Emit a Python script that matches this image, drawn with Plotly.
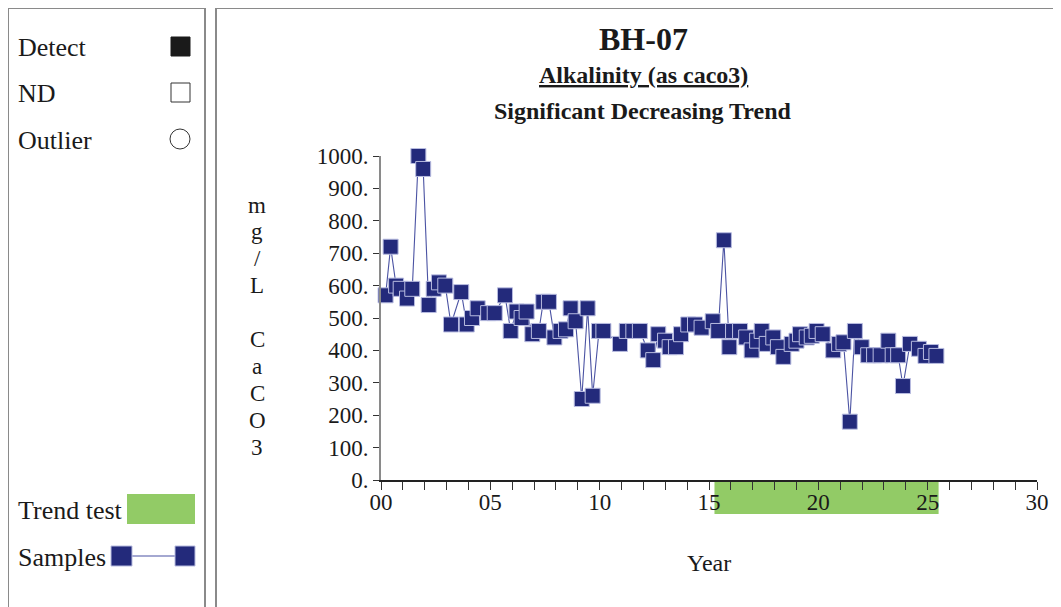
import plotly.graph_objects as go

# ---- data ----
years = [0.21, 0.44, 0.69, 0.90, 1.19, 1.43, 1.71, 1.93, 2.18, 2.41, 2.65, 2.94,
         3.20, 3.67, 3.92, 4.16, 4.42, 4.90, 5.20, 5.67, 5.93, 6.20, 6.43, 6.66,
         6.92, 7.22, 7.42, 7.68, 7.93, 8.21, 8.46, 8.67, 8.90, 9.18, 9.45, 9.68,
         9.97, 10.17, 10.93, 11.24, 11.54, 11.84, 12.20, 12.45, 12.68, 12.99, 13.20,
         13.49, 13.72, 14.05, 14.36, 14.66, 15.17, 15.42, 15.68, 15.93, 16.10, 16.42,
         16.70, 16.95, 17.20, 17.41, 17.64, 17.94, 18.15, 18.40, 18.78, 19.00, 19.16,
         19.47, 19.70, 19.92, 20.20, 20.68, 20.95, 21.15, 21.44, 21.67, 21.98, 22.28,
         22.55, 22.85, 23.20, 23.40, 23.65, 23.87, 24.19, 24.60, 24.90, 25.15, 25.40]
alkalinity = [570, 720, 600, 590, 560, 590, 1000, 960, 540, 590, 610, 600,
              480, 580, 480, 500, 530, 515, 515, 570, 460, 520, 500, 520,
              450, 460, 550, 550, 440, 460, 465, 530, 490, 250, 530, 260,
              460, 460, 420, 460, 460, 460, 400, 370, 450, 430, 410,
              410, 450, 480, 480, 470, 490, 460, 740, 410, 460, 460,
              440, 400, 430, 460, 420, 440, 410, 380, 420, 430, 450,
              440, 445, 460, 450, 400, 420, 425, 180, 460, 410, 385,
              385, 385, 430, 385, 385, 290, 420, 405, 383, 395, 383]
trend_start, trend_end = 15.25, 25.5
y_ticks = [0, 100, 200, 300, 400, 500, 600, 700, 800, 900, 1000]
y_ticktext = [f"{v}." for v in y_ticks]
x_ticks = [0, 5, 10, 15, 20, 25, 30]
x_ticktext = ["00", "05", "10", "15", "20", "25", "30"]
y_label_chars = ["m", "g", "/", "L", "", "C", "a", "C", "O", "3"]

# ---- layout geometry (page pixels; the page body adds an 8px offset) ----
OFF = 8
W, H = 1061 - OFF, 607 - OFF
L, R, T, B = 381, 1037, 156, 480
PW, PH = R - L, B - T

def fx(p):
    return (p - L) / PW

def fy(p):
    return (B - p) / PH

NAVY = "#232a7b"
LINEC = "#4b53a3"
GREEN = "#92cb66"
GRAY = "#8a8a8a"
FONT = "Liberation Serif"

fig = go.Figure()
fig.add_trace(go.Scatter(
    x=years, y=alkalinity, mode="lines+markers",
    line=dict(color=LINEC, width=1.1),
    marker=dict(symbol="square", size=15, color=NAVY,
                line=dict(color="#b8bce0", width=1)),
    cliponaxis=False, showlegend=False, hoverinfo="x+y"))

shapes = []
shapes.append(dict(type="rect", xref="x", yref="paper", x0=trend_start, x1=trend_end,
                   y0=fy(514), y1=fy(480), fillcolor=GREEN, line=dict(width=0), layer="below"))
shapes.append(dict(type="rect", xref="paper", yref="paper", x0=fx(8), x1=fx(205),
                   y0=fy(620), y1=fy(8), line=dict(color=GRAY, width=2), fillcolor="rgba(0,0,0,0)"))
shapes.append(dict(type="rect", xref="paper", yref="paper", x0=fx(216), x1=fx(1075),
                   y0=fy(620), y1=fy(8), line=dict(color=GRAY, width=2), fillcolor="rgba(0,0,0,0)"))
shapes.append(dict(type="rect", xref="paper", yref="paper", x0=fx(171), x1=fx(190),
                   y0=fy(56), y1=fy(37), fillcolor="#1a1a1a", line=dict(color="#1a1a1a", width=1)))
shapes.append(dict(type="rect", xref="paper", yref="paper", x0=fx(171), x1=fx(190),
                   y0=fy(102), y1=fy(83), fillcolor="white", line=dict(color="#333", width=1)))
shapes.append(dict(type="circle", xref="paper", yref="paper", x0=fx(170), x1=fx(190),
                   y0=fy(149), y1=fy(129), fillcolor="white", line=dict(color="#333", width=1)))
shapes.append(dict(type="rect", xref="paper", yref="paper", x0=fx(127), x1=fx(195),
                   y0=fy(524), y1=fy(494), fillcolor=GREEN, line=dict(width=0)))
shapes.append(dict(type="line", xref="paper", yref="paper", x0=fx(130), x1=fx(177),
                   y0=fy(556), y1=fy(556), line=dict(color=LINEC, width=1.2)))
shapes.append(dict(type="rect", xref="paper", yref="paper", x0=fx(111), x1=fx(132),
                   y0=fy(566), y1=fy(546), fillcolor=NAVY, line=dict(color="#b8bce0", width=1)))
shapes.append(dict(type="rect", xref="paper", yref="paper", x0=fx(175), x1=fx(195),
                   y0=fy(566), y1=fy(546), fillcolor=NAVY, line=dict(color="#b8bce0", width=1)))

ann = []
def text(t, xp, yp, size, anchor="left", bold=False, underline=False):
    s = t
    if underline:
        s = f"<u>{s}</u>"
    if bold:
        s = f"<b>{s}</b>"
    ann.append(dict(text=s, x=fx(xp), y=fy(yp), xref="paper", yref="paper",
                    xanchor=anchor, yanchor="middle", showarrow=False,
                    font=dict(family=FONT, size=size, color="#1a1a1a")))

text("Detect", 16, 47, 26)
text("ND", 16, 93, 26)
text("Outlier", 16, 140, 26)
text("Trend test", 16, 510, 26)
text("Samples", 16, 557, 26)
text("BH-07", 643, 39, 32, anchor="center", bold=True)
text("Alkalinity (as caco3)", 643, 75, 24, anchor="center", bold=True, underline=True)
text("Significant Decreasing Trend", 643, 111, 24, anchor="center", bold=True)
text("Year", 709, 563, 24, anchor="center")
for i, ch in enumerate(y_label_chars):
    if ch:
        text(ch, 257, 205 + i * 26.9, 23, anchor="center")

fig.update_layout(
    width=W, height=H,
    margin=dict(l=L - OFF, r=W - (R - OFF), t=T - OFF, b=H - (B - OFF), autoexpand=False),
    paper_bgcolor="white", plot_bgcolor="white",
    shapes=shapes, annotations=ann,
    font=dict(family=FONT, size=23, color="#1a1a1a"),
    xaxis=dict(range=[0, 30], tickvals=x_ticks, ticktext=x_ticktext,
               ticks="outside", ticklen=8, tickcolor="#333", tickwidth=1,
               showline=True, linecolor="#222", linewidth=1.5,
               showgrid=False, zeroline=False, ticklabelstandoff=-7,
               minor=dict(dtick=1, ticks="outside", ticklen=8, tickcolor="#333", tickwidth=1),
               tickfont=dict(family=FONT, size=23)),
    yaxis=dict(range=[0, 1000], tickvals=y_ticks, ticktext=y_ticktext,
               ticks="outside", ticklen=6, tickcolor="#333", tickwidth=1,
               showline=True, linecolor=GRAY, linewidth=2,
               showgrid=False, zeroline=False,
               tickfont=dict(family=FONT, size=23)),
)

fig.write_html("out.html")
